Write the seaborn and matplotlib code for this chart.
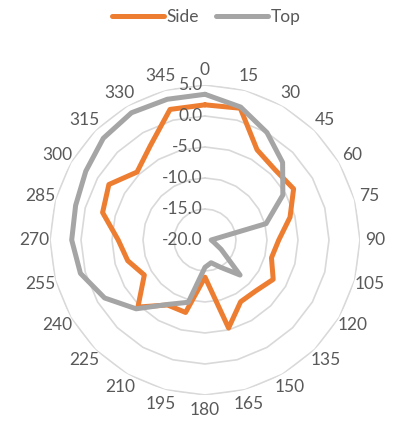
import numpy as np
import pandas as pd
import matplotlib
matplotlib.use("Agg")
import matplotlib.pyplot as plt
import seaborn as sns

# angles (degrees) and the two series
angles = list(range(0, 360, 15))
side = [1.8, 2.0, -3.2, -4.0, -3.5, -5.8, -8.1, -8.9, -7.3, -8.4, -8.5, -5.3,
        -14.0, -7.9, -7.9, -4.7, -8.7, -7.1, -6.0, -2.9, -2.1, -4.5, -2.4, 1.8]
top = [3.5, 2.2, 0.0, -2.3, -5.5, -9.8, -19.0, -18.5, -17.0, -12.0, -14.9, -16.2,
       -15.6, -9.6, -8.0, -4.3, -1.3, 0.8, 1.5, 1.6, 2.2, 3.2, 3.7, 3.5]
series_names = ["Side", "Top"]
r_ticks = [-20, -15, -10, -5, 0, 5]
colors = ["#ED7D31", "#A5A5A5"]

sns.set_theme(style="white")
plt.rcParams["font.family"] = ["Lato", "DejaVu Sans"]
txt_color = "#595959"

# close the loop by repeating the first point at 360
theta = np.deg2rad(angles + [360])
df = pd.concat([
    pd.DataFrame({"theta": theta, "value": side + side[:1], "series": "Side"}),
    pd.DataFrame({"theta": theta, "value": top + top[:1], "series": "Top"}),
])

fig = plt.figure(figsize=(3.94, 4.26), dpi=100)
ax = fig.add_axes([0.1269, 0.0728, 0.7868, 0.7277], projection="polar")
ax.set_theta_zero_location("N")
ax.set_theta_direction(-1)
ax.set_ylim(r_ticks[0], r_ticks[-1])

# excel-like polygon gridlines
for rv in r_ticks[1:]:
    ax.plot(theta, [rv] * len(theta), color="#d9d9d9", lw=1.2, zorder=1)
ax.grid(False)
ax.spines["polar"].set_visible(False)

sns.lineplot(data=df, x="theta", y="value", hue="series", palette=colors,
             sort=False, lw=3.6, ax=ax, legend=False, zorder=3)

ax.set_xticks(np.deg2rad(angles))
ax.set_xticklabels([str(a) for a in angles], color=txt_color, fontsize=12.5)
ax.tick_params(axis="x", pad=-2)
ax.set_yticks(r_ticks)
ax.set_yticklabels([])
ax.set_xlabel("")
ax.set_ylabel("")
for rv in r_ticks:
    ax.annotate(f"{rv:.1f}", xy=(0, rv), xytext=(-2, 0), textcoords="offset points",
                ha="right", va="center", color=txt_color, fontsize=12.5, zorder=4)

handles = ax.lines[-2:]
fig.legend(handles, series_names, loc="center", bbox_to_anchor=(0.523, 0.96),
           ncol=2, frameon=False, fontsize=12.5, handlelength=3.0,
           handletextpad=0.15, columnspacing=1.0, labelcolor=txt_color)

fig.savefig("out.png", dpi=100)
